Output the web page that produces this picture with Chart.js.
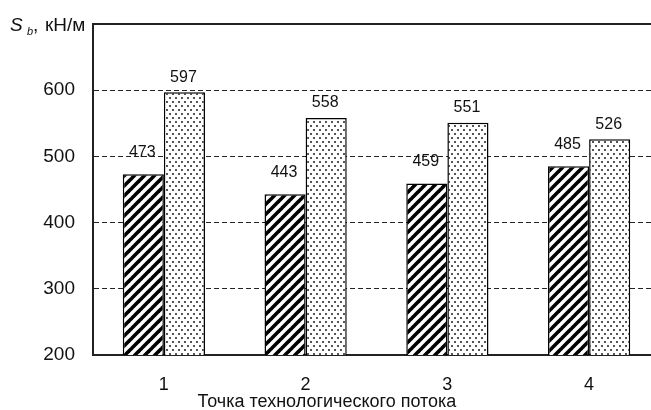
<!DOCTYPE html>
<html>
<head>
<meta charset="utf-8">
<script src="https://cdn.jsdelivr.net/npm/chart.js@4"></script>
<style>
  html, body { margin: 0; padding: 0; background: #fff; overflow: hidden; }
  #wrap { position: relative; width: 651px; height: 410px; overflow: hidden; }
  canvas { display: block; }
</style>
</head>
<body>
<div id="wrap"><canvas id="c" width="670" height="410"></canvas></div>
<script>
// ---- data ----
const categories = ['1', '2', '3', '4'];
const seriesHatched = [473, 443, 459, 485];
const seriesDotted = [597, 558, 551, 526];
const yTickValues = [200, 300, 400, 500, 600, 700];
const yTitleMain = 'S';
const yTitleSub = 'b';
const yTitleComma = ',';
const yTitleUnit = 'кН/м';
const xTitle = 'Точка технологического потока';

const FONT = "'Liberation Sans', Arial, sans-serif";
const INK = '#111';

function hatchPattern() {
  const s = 10;
  const c = document.createElement('canvas');
  c.width = s; c.height = s;
  const g = c.getContext('2d');
  g.fillStyle = '#fff'; g.fillRect(0, 0, s, s);
  g.strokeStyle = '#000'; g.lineWidth = 3.6;
  for (const o of [-s, 0, s]) {
    g.beginPath();
    g.moveTo(o - 2, s + 2);
    g.lineTo(o + s + 2, -2);
    g.stroke();
  }
  return g.createPattern(c, 'repeat');
}
function dotPattern() {
  const w = 6, h = 8;
  const c = document.createElement('canvas');
  c.width = w; c.height = h;
  const g = c.getContext('2d');
  g.fillStyle = '#fff'; g.fillRect(0, 0, w, h);
  g.fillStyle = '#555';
  g.fillRect(1, 1, 2, 2);
  g.fillRect(4, 5, 2, 2);
  return g.createPattern(c, 'repeat');
}

const labelOffsets = [22, 15];

const decorPlugin = {
  id: 'decor',
  afterDraw(chart) {
    const { ctx, chartArea } = chart;
    ctx.save();
    // top frame line
    ctx.strokeStyle = '#222';
    ctx.lineWidth = 2;
    ctx.beginPath();
    ctx.moveTo(chartArea.left - 1, chartArea.top);
    ctx.lineTo(chart.width, chartArea.top);
    ctx.stroke();
    // y title
    ctx.fillStyle = INK;
    ctx.textBaseline = 'alphabetic';
    ctx.textAlign = 'left';
    ctx.font = 'italic 19px ' + FONT;
    ctx.fillText(yTitleMain, 10, 31);
    ctx.font = 'italic 11px ' + FONT;
    ctx.fillText(yTitleSub, 27, 35);
    ctx.font = '19px ' + FONT;
    ctx.fillText(yTitleComma, 33, 31);
    ctx.fillText(yTitleUnit, 45, 31);
    // x title
    ctx.textAlign = 'center';
    ctx.font = '18px ' + FONT;
    ctx.fillText(xTitle, 327, 407);
    ctx.restore();
  },
  afterDatasetsDraw(chart) {
    const { ctx } = chart;
    ctx.save();
    ctx.fillStyle = INK;
    ctx.font = '16px ' + FONT;
    ctx.textAlign = 'center';
    ctx.textBaseline = 'middle';
    chart.data.datasets.forEach((ds, di) => {
      chart.getDatasetMeta(di).data.forEach((bar, i) => {
        ctx.fillText(String(ds.data[i]), bar.x - 1, bar.y - labelOffsets[di]);
      });
    });
    ctx.restore();
  }
};

new Chart(document.getElementById('c'), {
  type: 'bar',
  data: {
    labels: categories,
    datasets: [
      { data: seriesHatched, backgroundColor: hatchPattern(), borderColor: '#000', borderWidth: 1.5 },
      { data: seriesDotted, backgroundColor: dotPattern(), borderColor: '#000', borderWidth: 1.5 }
    ]
  },
  options: {
    responsive: false,
    animation: false,
    devicePixelRatio: 1,
    layout: { padding: { left: 0, right: 10, top: 24, bottom: 0 } },
    plugins: { legend: { display: false }, tooltip: { enabled: false } },
    datasets: { bar: { categoryPercentage: 0.58, barPercentage: 1.0 } },
    scales: {
      x: {
        grid: { display: false, drawTicks: false },
        border: { color: '#222', width: 2 },
        ticks: { color: INK, font: { family: FONT, size: 18 }, padding: 19 },
        afterFit(s) { s.height = 55; s.paddingLeft = 0; s.paddingRight = 0; }
      },
      y: {
        min: yTickValues[0],
        max: yTickValues[yTickValues.length - 1],
        afterBuildTicks(s) { s.ticks = yTickValues.map(v => ({ value: v })); },
        grid: { color: '#222', lineWidth: 1, drawTicks: false },
        border: { color: '#222', width: 2, dash: [5, 3] },
        ticks: {
          color: INK, font: { family: FONT, size: 19 }, padding: 18,
          callback: (v) => (v === yTickValues[yTickValues.length - 1] ? '' : String(v))
        },
        afterFit(s) { s.width = 93; s.paddingTop = 0; s.paddingBottom = 0; }
      }
    }
  },
  plugins: [decorPlugin]
});
</script>
</body>
</html>
